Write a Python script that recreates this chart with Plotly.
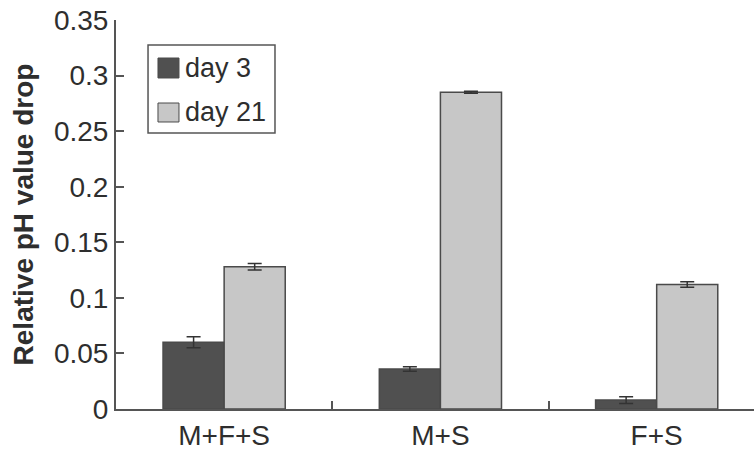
import plotly.graph_objects as go

# Relative pH value drop per composite, measured on day 3 and day 21
groups = ["M+F+S", "M+S", "F+S"]
day3_values = [0.060, 0.036, 0.008]
day3_errors = [0.005, 0.002, 0.003]
day21_values = [0.128, 0.285, 0.112]
day21_errors = [0.003, 0.001, 0.0025]
series_names = ["day 3", "day 21"]
y_ticks = [0, 0.05, 0.1, 0.15, 0.2, 0.25, 0.3, 0.35]
y_ticktext = ["0", "0.05", "0.1", "0.15", "0.2", "0.25", "0.3", "0.35"]

dark_fill = "#505050"
light_fill = "#c7c7c7"
edge = "#4a4a4a"
text_col = "#2e2e2e"
font_family = "Liberation Sans, Arial, sans-serif"

fig = go.Figure()
for name, vals, errs, fill in [
    (series_names[0], day3_values, day3_errors, dark_fill),
    (series_names[1], day21_values, day21_errors, light_fill),
]:
    fig.add_trace(go.Bar(
        x=groups, y=vals, name=name,
        marker=dict(color=fill, line=dict(color=edge, width=1.5)),
        error_y=dict(type="data", array=errs, visible=True,
                     color="#333333", thickness=1.5, width=7),
        showlegend=False,
    ))

# Boxed legend in the upper-left corner of the plot
fig.add_shape(type="rect", xref="paper", yref="paper",
              x0=0.0502, x1=0.2492, y0=0.7095, y1=0.9357,
              line=dict(color="#555555", width=1.5), fillcolor="white")
for (sy0, sy1, ty), name, fill in zip(
        [(0.8509, 0.9023, 0.8766), (0.7378, 0.7866, 0.7635)],
        series_names, [dark_fill, light_fill]):
    fig.add_shape(type="rect", xref="paper", yref="paper",
                  x0=0.0658, x1=0.0987, y0=sy0, y1=sy1,
                  line=dict(color=edge, width=1), fillcolor=fill)
    fig.add_annotation(xref="paper", yref="paper", x=0.1050, y=ty,
                       text=name, showarrow=False, xanchor="left",
                       yanchor="middle",
                       font=dict(size=27, color=text_col, family=font_family))

fig.update_layout(
    width=754, height=450,
    margin=dict(l=116, r=0, t=20, b=41),
    paper_bgcolor="white", plot_bgcolor="white",
    barmode="group", bargap=0.435, bargroupgap=0,
    font=dict(family=font_family, size=28, color=text_col),
)
fig.update_xaxes(
    range=[-0.5, 2.45], showline=True, linecolor="#555555", linewidth=2,
    ticks="inside", tickson="boundaries", ticklen=8, tickwidth=1.5,
    tickcolor="#555555", showgrid=False, zeroline=False,
    tickfont=dict(size=28, color=text_col),
)
fig.update_yaxes(
    range=[0, 0.35], tickvals=y_ticks, ticktext=y_ticktext,
    showline=True, linecolor="#555555", linewidth=2,
    ticks="inside", ticklen=8, tickwidth=1.5, tickcolor="#555555",
    showgrid=False, zeroline=False,
    tickfont=dict(size=28, color=text_col),
    title=dict(text="<b>Relative pH value drop</b>", standoff=12,
               font=dict(size=28, color=text_col)),
)

fig.write_html("out.html")
